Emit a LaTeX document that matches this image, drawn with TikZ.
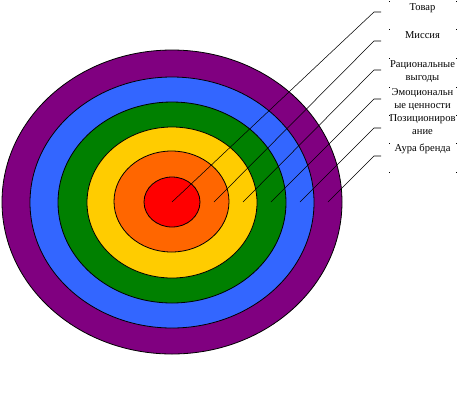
\documentclass[tikz,border=0pt]{standalone}
\usepackage{fontspec}
\setmainfont{Liberation Serif}
\usetikzlibrary{positioning}
\definecolor{auracol}{HTML}{800080}
\definecolor{poscol}{HTML}{3366FF}
\definecolor{emocol}{HTML}{008000}
\definecolor{ratcol}{HTML}{FFCC00}
\definecolor{miscol}{HTML}{FF6600}
\definecolor{tovcol}{HTML}{FF0000}
\tikzset{
  ring/.style     = {draw=black, line width=0.6pt},
  leader/.style   = {draw=black, line width=0.4pt},
  lbl/.style      = {font=\fontsize{7.9}{9.75}\selectfont, anchor=base, align=center, inner sep=0pt},
  cornerdot/.style = {fill=black, draw=none},
}

\begin{document}
\begin{tikzpicture}[x=0.75pt,y=-0.75pt]
  \useasboundingbox (0,0) rectangle (457,405);

  % ----- rings, outer to inner -----
  \foreach \c/\cx/\cy/\rx/\ry in {auracol/172/202/170/152,
                                  poscol/172/202.5/142/125.5,
                                  emocol/172/202.5/114/100.5,
                                  ratcol/172/202.5/85/75.5,
                                  miscol/171.5/201.5/57.5/50.5,
                                  tovcol/172/202/28/25}
  {
    \draw[ring, fill=\c] (\cx,\cy) ellipse [x radius=\rx, y radius=\ry];
  }

  % ----- labels (base = last line) -----
  \foreach \i/\t/\b in {1/{Товар}/10.5,
                        2/{Миссия}/38,
                        3/{Рациональные\\выгоды}/80,
                        4/{Эмоциональн\\ые ценности}/108.5,
                        5/{Позициониров\\ание}/134,
                        6/{Аура бренда}/151}
  {
    \node[lbl] (lbl\i) at (422.5,\b) {\t};
  }

  % ----- box corner dots -----
  \foreach \y in {1,29,58,87,115,143,172} {
    \fill[cornerdot] (388.5,\y-0.5) rectangle (389.5,\y+0.5);
    \fill[cornerdot] (455.5,\y-0.5) rectangle (456.5,\y+0.5);
  }

  % ----- leaders -----
  \foreach \i/\x/\y in {1/172/12, 2/214/41, 3/243/70, 4/271/99, 5/300/128, 6/328/156} {
    \coordinate (in\i) at (\x,202);
    \coordinate (bend\i) at (374,\y);
    \coordinate (end\i) at (381,\y);
    \draw[leader] (in\i) -- (bend\i) -- (end\i);
  }
\end{tikzpicture}
\end{document}
